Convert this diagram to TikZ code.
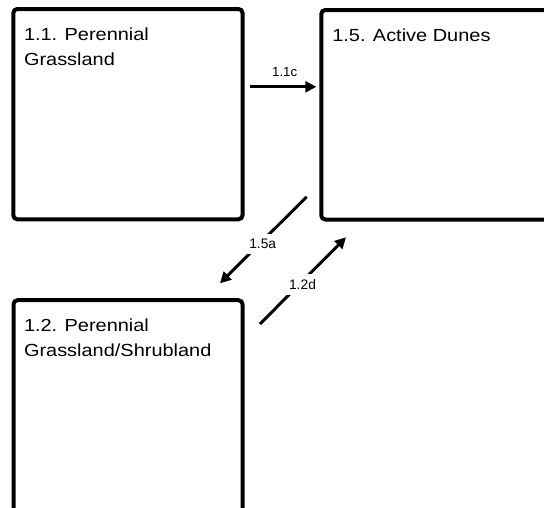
\documentclass[tikz,border=0pt]{standalone}
\usepackage{fontspec}
\setmainfont{Liberation Sans}
\newfontfamily\titlefont[FakeStretch=1.14]{Liberation Sans}
\usetikzlibrary{arrows.meta}
\tikzset{
  statebox/.style={draw=black, line width=4pt, rounded corners=4pt, fill=white, inner sep=0pt},
  titletext/.style={anchor=base west, align=left, inner sep=0pt, font=\titlefont\fontsize{17.5}{25}\selectfont},
  trans/.style={line width=3pt, -{Triangle[length=11pt,width=11pt]}},
  translabel/.style={fill=white, inner sep=5pt, font=\fontsize{13.8}{15}\selectfont}
}
\begin{document}
\begin{tikzpicture}[x=1pt,y=-1pt]
\useasboundingbox (0,0) rectangle (544,507);
\clip (0,0) rectangle (544,507);
\fill[white] (0,0) rectangle (544,507);
% boxes
\node[statebox, minimum width=229.2pt, minimum height=210.3pt] (b11) at (127.9,114.15) {};
\node[statebox, minimum width=238.7pt, minimum height=209.5pt] (b15) at (440.65,114.75) {};
\node[statebox, minimum width=229pt, minimum height=219.8pt] (b12) at (128,410.1) {};
% titles
\node[titletext] (t11) at (23.8,65.8) {1.1. Perennial\\Grassland};
\node[titletext] (t15) at (332.1,41) {1.5. Active Dunes};
\node[titletext] (t12) at (23.8,356.5) {1.2. Perennial\\Grassland/Shrubland};
% transitions
\coordinate (c5s) at (306.7,196.7);
\coordinate (c5e) at (220,283.3);
\coordinate (c2s) at (260,324);
\coordinate (c2e) at (346,237.3);
\draw[trans, shorten <=5pt, shorten >=3pt] (b11.east |- 0,86.8) -- (b15.west |- 0,86.8);
\draw[trans] (c5s) -- (c5e);
\draw[trans] (c2s) -- (c2e);
\node[font=\fontsize{13.2}{15}\selectfont, inner sep=0pt] (l11) at (284.7,72.5) {1.1c};
\node[translabel] (l15) at (262.7,244) {1.5a};
\node[translabel] (l12) at (302.5,284.5) {1.2d};
\end{tikzpicture}
\end{document}
